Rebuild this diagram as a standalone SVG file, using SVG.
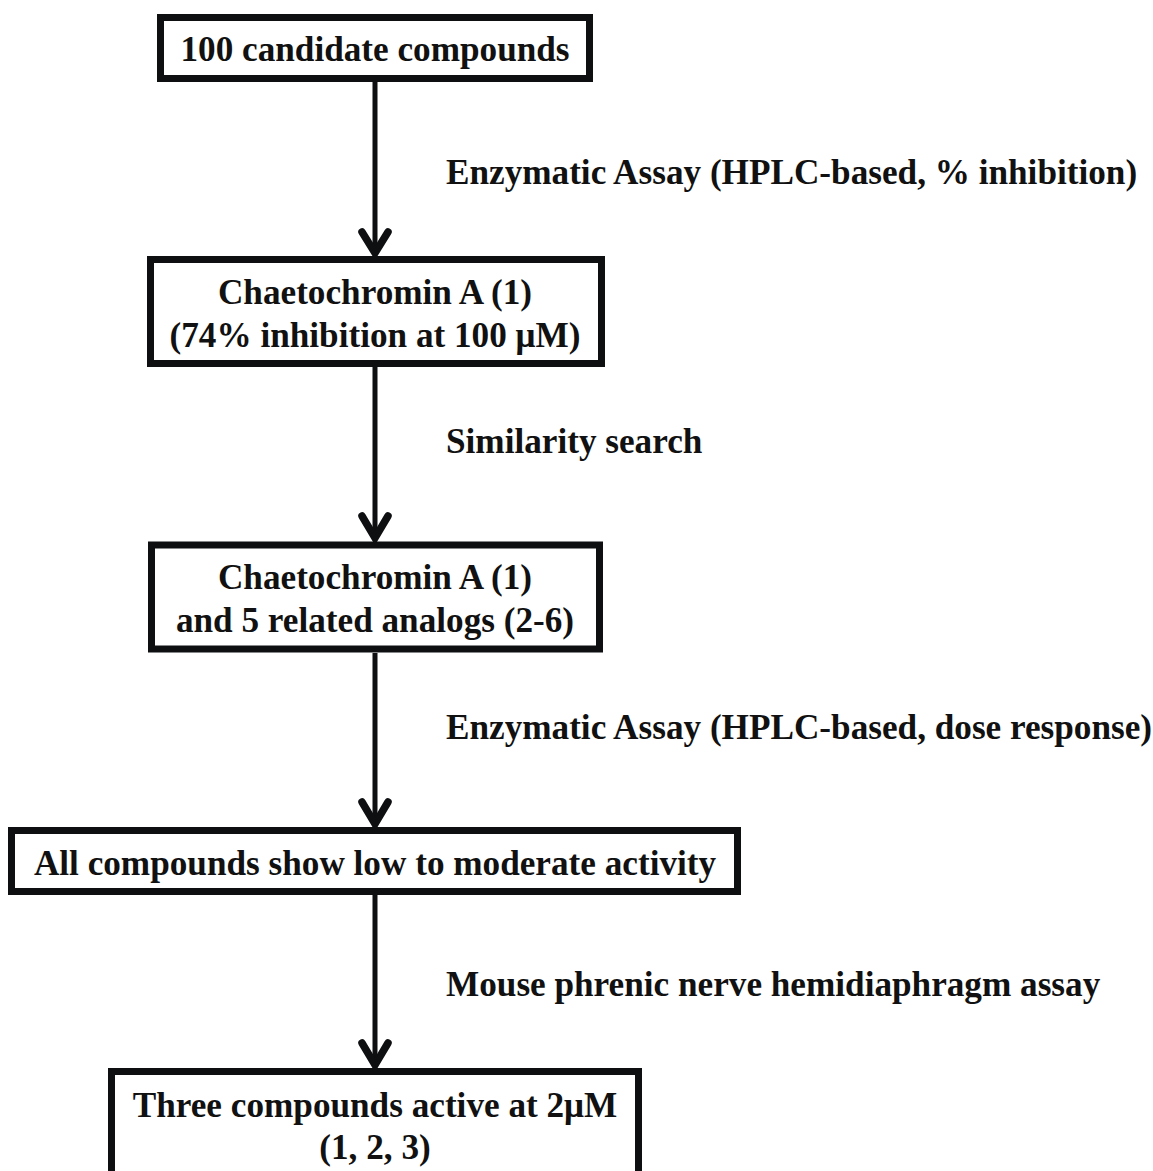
<svg xmlns="http://www.w3.org/2000/svg" width="1153" height="1171" viewBox="0 0 1153 1171">
<style>
.box{fill:#fff;stroke:#0d0f11;stroke-width:7}
.t{font-family:"Liberation Serif","Times New Roman",serif;font-weight:bold;font-size:35.2px;fill:#111}
.c{text-anchor:middle}
.ln{stroke:#0d0f11;stroke-width:5;fill:none}
.ah{stroke:#0d0f11;stroke-width:7.5;fill:none;stroke-linecap:round;stroke-linejoin:miter}
</style>
<rect width="1153" height="1171" fill="#fff"/>
<g id="connectors">
<line class="ln" x1="375" y1="82" x2="375" y2="254"/>
<polyline class="ah" points="362,232 375,253 388,232"/>
<line class="ln" x1="375" y1="367" x2="375" y2="539"/>
<polyline class="ah" points="362,516 375,538 388,516"/>
<line class="ln" x1="375" y1="653" x2="375" y2="825"/>
<polyline class="ah" points="362,802 375,824 388,802"/>
<line class="ln" x1="375" y1="895" x2="375" y2="1066"/>
<polyline class="ah" points="362,1043 375,1065 388,1043"/>
<text class="t" x="446" y="184">Enzymatic Assay (HPLC-based, % inhibition)</text>
<text class="t" x="446" y="453">Similarity search</text>
<text class="t" x="446" y="739">Enzymatic Assay (HPLC-based, dose response)</text>
<text class="t" x="446" y="996">Mouse phrenic nerve hemidiaphragm assay</text>
</g>
<g id="n1">
<rect class="box" x="160.5" y="17.5" width="429" height="61"/>
<text class="t c" x="375" y="61">100 candidate compounds</text>
</g>
<g id="n2">
<rect class="box" x="150.5" y="259.5" width="451" height="104"/>
<text class="t c" x="375" y="304">Chaetochromin A (1)</text>
<text class="t c" x="375" y="347">(74% inhibition at 100 μM)</text>
</g>
<g id="n3">
<rect class="box" x="151.5" y="545" width="448" height="104"/>
<text class="t c" x="375" y="589">Chaetochromin A (1)</text>
<text class="t c" x="375" y="632">and 5 related analogs (2-6)</text>
</g>
<g id="n4">
<rect class="box" x="11.5" y="830.5" width="726" height="61"/>
<text class="t c" x="375" y="875">All compounds show low to moderate activity</text>
</g>
<g id="n5">
<rect class="box" x="111.5" y="1071.5" width="527" height="120"/>
<text class="t c" x="375" y="1117">Three compounds active at 2μM</text>
<text class="t c" x="375" y="1159">(1, 2, 3)</text>
</g>
</svg>
